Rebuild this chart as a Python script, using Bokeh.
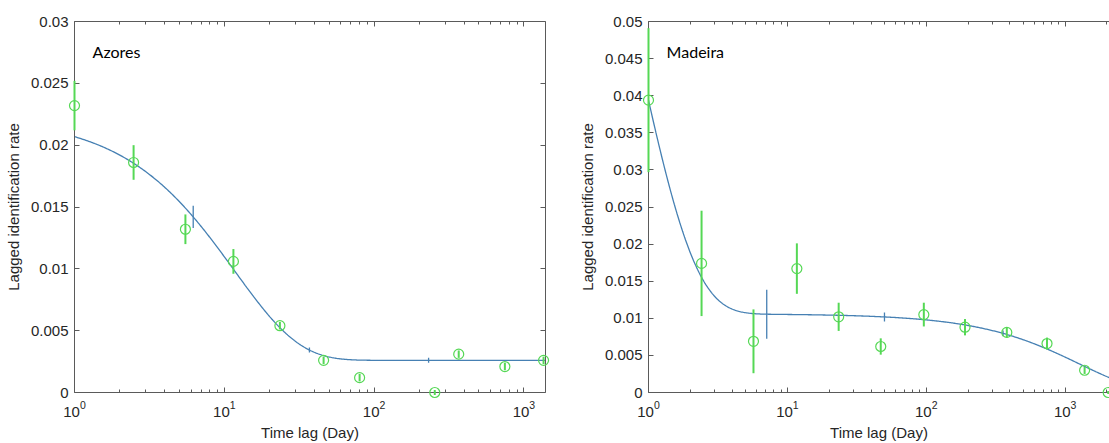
import numpy as np
from bokeh.plotting import figure
from bokeh.layouts import row
from bokeh.models import LogAxis, LinearAxis, FixedTicker, Label, Range1d, LogTickFormatter
from bokeh.embed import file_html
from bokeh.resources import INLINE

# ---- Azores: observed lagged identification rates (mean +/- SE) ----
azores_lag = [1, 2.48, 5.5, 11.5, 23.5, 46, 80, 254, 367, 746, 1352]
azores_rate = [0.0232, 0.0186, 0.0132, 0.0106, 0.0054, 0.0026, 0.0012, 0.0, 0.0031, 0.0021, 0.0026]
azores_err = [0.0020, 0.0014, 0.0012, 0.0010, 0.0003, 0.0003, 0.0003, 0.0002, 0.0003, 0.0003, 0.0003]
# fitted model: a * exp(-t / tau) + c
azores_fit = dict(a=0.0197, tau=11.7, c=0.0026)
azores_fit_lag = [6.2, 37, 231]
azores_fit_err = [0.0009, 0.0002, 0.0002]
azores_xmax = 1393
azores_yticks = [0, 0.005, 0.01, 0.015, 0.02, 0.025, 0.03]
azores_ylabels = ["0", "0.005", "0.01", "0.015", "0.02", "0.025", "0.03"]

# ---- Madeira ----
madeira_lag = [1, 2.41, 5.7, 11.7, 23.4, 47, 96, 190, 380, 740, 1380, 2040]
madeira_rate = [0.0394, 0.0174, 0.0069, 0.0167, 0.0102, 0.0062, 0.0105, 0.0088, 0.0081, 0.0066, 0.0030, 0.0]
madeira_err = [0.0097, 0.0071, 0.0043, 0.0034, 0.0019, 0.0011, 0.0016, 0.0011, 0.0007, 0.0008, 0.0005, 0.0002]
# fitted model: a1 * exp(-t / t1) + a2 * exp(-t / t2)
madeira_fit = dict(a1=0.1005, t1=0.8, a2=0.0106, t2=1250)
madeira_fit_lag = [7.1, 50, 357]
madeira_fit_err = [0.0033, 0.0006, 0.0004]
madeira_xmax = 2085
madeira_yticks = [0, 0.005, 0.01, 0.015, 0.02, 0.025, 0.03, 0.035, 0.04, 0.045, 0.05]
madeira_ylabels = ["0", "0.005", "0.01", "0.015", "0.02", "0.025", "0.03", "0.035", "0.04", "0.045", "0.05"]

x_major = [1, 10, 100, 1000]
x_minor = [m * 10 ** e for e in range(0, 4) for m in range(2, 10)]

GREEN = "#55d855"
BLUE = "#4680b3"
AXIS = "#5a5a5a"
TEXT = "#262626"
FONT = "Liberation Sans"


def azores_model(t):
    t = np.asarray(t, dtype=float)
    return azores_fit["a"] * np.exp(-t / azores_fit["tau"]) + azores_fit["c"]


def madeira_model(t):
    t = np.asarray(t, dtype=float)
    return (madeira_fit["a1"] * np.exp(-t / madeira_fit["t1"])
            + madeira_fit["a2"] * np.exp(-t / madeira_fit["t2"]))


def style_axis(ax, labels=True):
    ax.axis_line_color = AXIS
    ax.axis_line_width = 1
    ax.major_tick_line_color = AXIS
    ax.minor_tick_line_color = AXIS
    ax.major_tick_in = 5
    ax.major_tick_out = 0
    ax.minor_tick_in = 3
    ax.minor_tick_out = 0
    ax.major_label_text_font = FONT
    ax.major_label_text_color = TEXT
    ax.major_label_text_font_size = "15px"
    ax.axis_label_text_font = FONT
    ax.axis_label_text_font_style = "normal"
    ax.axis_label_text_color = TEXT
    ax.axis_label_text_font_size = "15px"
    if not labels:
        ax.major_label_text_font_size = "1px"
        ax.major_label_text_alpha = 0
        ax.major_label_standoff = 0


def make_panel(lag, rate, err, model, fit_lag, fit_err, xmax,
               yticks, ylabels, width, border_left, border_right, right_axis):
    p = figure(width=width, height=443, x_axis_type="log",
               x_range=Range1d(1, xmax), y_range=Range1d(0, yticks[-1]),
               output_backend="svg", toolbar_location=None,
               min_border_left=border_left, min_border_right=border_right,
               min_border_top=21, min_border_bottom=51)
    p.outline_line_color = None
    p.background_fill_color = "white"
    p.border_fill_color = "white"
    p.xgrid.visible = False
    p.ygrid.visible = False

    xt = FixedTicker(ticks=x_major, minor_ticks=x_minor)
    yt = FixedTicker(ticks=yticks, minor_ticks=[])
    overrides = {str(k): v for k, v in zip(yticks, ylabels)}

    p.xaxis.ticker = xt
    p.xaxis.formatter = LogTickFormatter()
    p.xaxis.axis_label = "Time lag (Day)"
    p.xaxis.axis_label_standoff = 4
    p.xaxis.major_label_standoff = 8
    p.yaxis.ticker = yt
    p.yaxis.major_label_overrides = overrides
    p.yaxis.axis_label = "Lagged identification rate"
    p.yaxis.axis_label_standoff = 6
    p.yaxis.major_label_standoff = 6
    style_axis(p.xaxis[0])
    style_axis(p.yaxis[0])

    top = LogAxis(ticker=xt)
    style_axis(top, labels=False)
    p.add_layout(top, "above")
    if right_axis:
        right = LinearAxis(ticker=yt)
        style_axis(right, labels=False)
        p.add_layout(right, "right")

    # fitted curve with its standard-error marks
    tt = np.logspace(0, np.log10(xmax), 500)
    p.line(tt, model(tt), line_color=BLUE, line_width=1.3)
    fy = model(fit_lag)
    p.segment(x0=fit_lag, x1=fit_lag, y0=fy - np.array(fit_err), y1=fy + np.array(fit_err),
              line_color=BLUE, line_width=1.3)

    # observed rates with error bars (kept above the axes so the first lag stays visible)
    r = np.array(rate)
    e = np.array(err)
    p.segment(x0=lag, x1=lag, y0=r - e, y1=r + e, line_color=GREEN, line_width=2,
              level="overlay")
    p.scatter(lag, rate, marker="circle", size=10, fill_color=None,
              line_color=GREEN, line_width=1.2, level="overlay")
    return p


left = make_panel(azores_lag, azores_rate, azores_err, azores_model,
                  azores_fit_lag, azores_fit_err, azores_xmax,
                  azores_yticks, azores_ylabels, width=575,
                  border_left=74, border_right=30, right_axis=True)
left.add_layout(Label(x=1.32, y=0.0276, text="Azores", text_font="Lato",
                      text_font_size="16px", text_color="black",
                      text_baseline="middle"))

right = make_panel(madeira_lag, madeira_rate, madeira_err, madeira_model,
                   madeira_fit_lag, madeira_fit_err, madeira_xmax,
                   madeira_yticks, madeira_ylabels, width=534,
                   border_left=73, border_right=0, right_axis=False)
right.add_layout(Label(x=1.35, y=0.046, text="Madeira", text_font="Lato",
                       text_font_size="16px", text_color="black",
                       text_baseline="middle"))

layout = row(left, right)
open("out.html", "w").write(file_html(layout, INLINE))
